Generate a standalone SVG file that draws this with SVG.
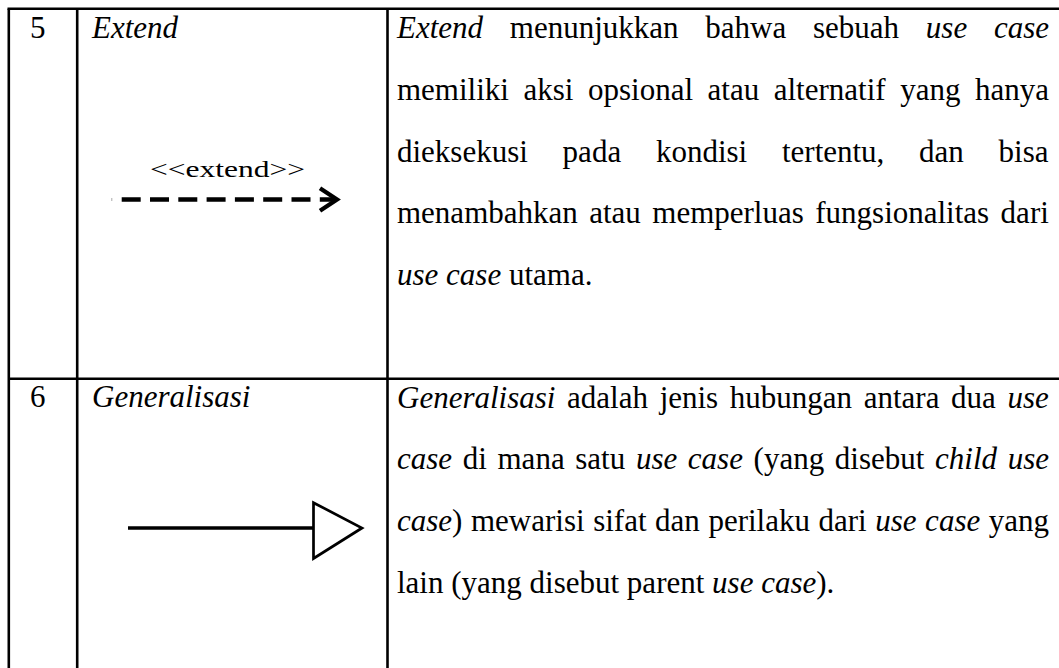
<svg xmlns="http://www.w3.org/2000/svg" width="1059" height="668" viewBox="0 0 1059 668">
<style>
text{font-family:"Liberation Serif","Times New Roman",serif;font-size:31px;fill:#000}
.i{font-style:italic}
.grid line{stroke:#000;stroke-width:2.6}
</style>
<rect width="1059" height="668" fill="#fff"/>
<g id="grid" class="grid">
<line x1="7.5" y1="8.8" x2="1059" y2="8.8"/>
<line x1="8.8" y1="8.8" x2="8.8" y2="668"/>
<line x1="77.2" y1="8.8" x2="77.2" y2="668"/>
<line x1="387.5" y1="8.8" x2="387.5" y2="668"/>
<line x1="8.8" y1="378.8" x2="1059" y2="378.8"/>
</g>
<g id="row5">
<text x="30" y="37.5">5</text>
<text class="i" x="92" y="37.5">Extend</text>
<text x="150" y="177.3" style="font-size:24px" textLength="155" lengthAdjust="spacingAndGlyphs">&lt;&lt;extend&gt;&gt;</text>
<g id="desc5">
<text x="397" y="38" style="word-spacing:19px"><tspan class="i">Extend</tspan> menunjukkan bahwa sebuah <tspan class="i">use case</tspan></text>
<text x="397" y="99.75" style="word-spacing:6.8px">memiliki aksi opsional atau alternatif yang hanya</text>
<text x="397" y="161.5" style="word-spacing:27px">dieksekusi pada kondisi tertentu, dan bisa</text>
<text x="397" y="223.25" style="word-spacing:3.7px">menambahkan atau memperluas fungsionalitas dari</text>
<text x="397" y="285"><tspan class="i">use case</tspan> utama.</text>
</g>
</g>
<g id="row6">
<text x="30" y="407.3">6</text>
<text class="i" x="92" y="407.3">Generalisasi</text>
<g id="desc6">
<text x="397" y="407.5" style="word-spacing:3.9px"><tspan class="i">Generalisasi</tspan> adalah jenis hubungan antara dua <tspan class="i">use</tspan></text>
<text x="397" y="469.25" style="word-spacing:2.9px"><tspan class="i">case</tspan> di mana satu <tspan class="i">use case</tspan> (yang disebut <tspan class="i">child use</tspan></text>
<text x="397" y="531" style="word-spacing:0.8px"><tspan class="i">case</tspan>) mewarisi sifat dan perilaku dari <tspan class="i">use case</tspan> yang</text>
<text x="397" y="592.75">lain (yang disebut parent <tspan class="i">use case</tspan>).</text>
</g>
</g>
<g id="connectors">
<line x1="111.8" y1="198" x2="111.8" y2="201" stroke="#aaa" stroke-width="1"/>
<line x1="121.7" y1="199.5" x2="334" y2="199.5" stroke="#000" stroke-width="4.3" stroke-dasharray="19 9.3"/>
<polyline points="320,188.3 337,199.5 320,210.7" fill="none" stroke="#000" stroke-width="4.3"/>
<line x1="128" y1="528" x2="313.5" y2="528" stroke="#000" stroke-width="3.6"/>
<polygon points="313.5,502.7 362,528 313.5,558.5" fill="#fff" stroke="#000" stroke-width="2.7"/>
</g>
</svg>
